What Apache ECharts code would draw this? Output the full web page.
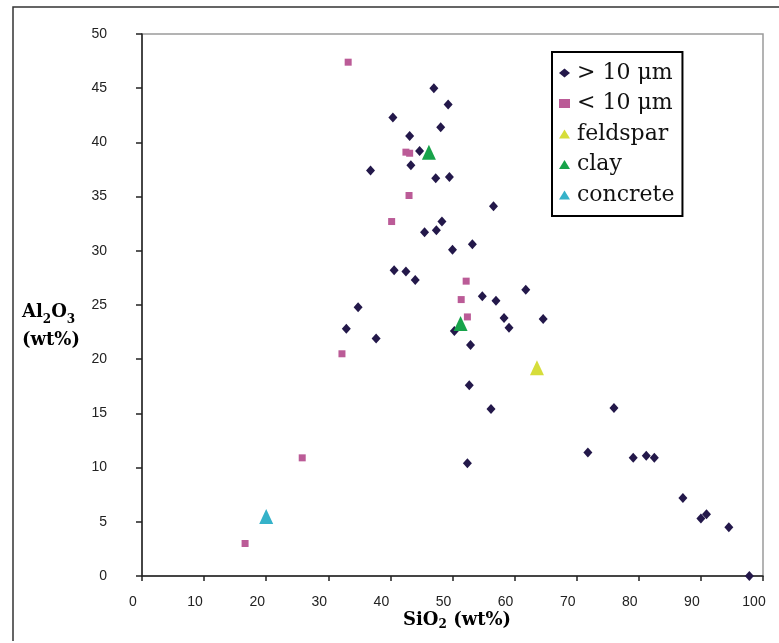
<!DOCTYPE html>
<html>
<head>
<meta charset="utf-8">
<script src="https://cdn.jsdelivr.net/npm/echarts@6/dist/echarts.min.js"></script>
<style>
html,body{margin:0;padding:0;background:#fff;}
#chart{width:779px;height:643px;}
</style>
</head>
<body>
<div id="chart"></div>
<script>
// Series names
const seriesNames = ['> 10 \u03bcm', '< 10 \u03bcm', 'feldspar', 'clay', 'concrete'];

// [SiO2, Al2O3] wt% pairs
const gt10Points = [
  [40.4, 42.3], [43.1, 40.6], [44.7, 39.2], [43.3, 37.9], [36.8, 37.4],
  [47.0, 45.0], [49.3, 43.5], [48.1, 41.4], [47.3, 36.7], [49.5, 36.8],
  [56.6, 34.1], [48.3, 32.7], [45.5, 31.7], [47.4, 31.9], [50.0, 30.1],
  [53.2, 30.6], [40.6, 28.2], [42.5, 28.1], [44.0, 27.3], [54.8, 25.8],
  [57.0, 25.4], [34.8, 24.8], [58.3, 23.8], [59.1, 22.9], [32.9, 22.8],
  [37.7, 21.9], [50.3, 22.6], [52.9, 21.3], [52.7, 17.6], [56.2, 15.4],
  [61.8, 26.4], [64.6, 23.7], [76.0, 15.5], [71.8, 11.4], [79.1, 10.9],
  [81.2, 11.1], [82.5, 10.9], [52.4, 10.4], [87.1, 7.2], [90.0, 5.3],
  [90.9, 5.7], [94.5, 4.5], [97.8, 0.0]
];
const lt10Points = [
  [33.2, 47.4], [42.5, 39.1], [43.1, 39.0], [43.0, 35.1], [40.2, 32.7],
  [52.2, 27.2], [51.4, 25.5], [52.4, 23.9], [32.2, 20.5], [25.8, 10.9],
  [16.6, 3.0]
];
const feldsparPoints = [[63.6, 19.2]];
const clayPoints = [[46.2, 39.1], [51.3, 23.3]];
const concretePoints = [[20.0, 5.5]];

// Axis ticks
const xMin = 0, xMax = 100, xStep = 10;
const yMin = 0, yMax = 50, yStep = 5;

const colors = ['#23184a', '#bb5b97', '#d6dd3a', '#17a34a', '#35b2c9'];
const serifFont = '"DejaVu Serif", "Liberation Serif", serif';

const chart = echarts.init(document.getElementById('chart'), null, {renderer: 'canvas'});

const axisLabelStyle = {
  fontFamily: '"Liberation Sans", Arial, sans-serif',
  fontSize: 14,
  color: '#222'
};

const option = {
  animation: false,
  backgroundColor: '#fff',
  grid: {
    left: 142, right: 16, top: 34, bottom: 67,
    show: true, borderColor: '#9a9a9a', borderWidth: 1.5, backgroundColor: 'transparent'
  },
  xAxis: {
    type: 'value', min: xMin, max: xMax, interval: xStep,
    axisLine: {show: true, onZero: false, lineStyle: {color: '#222', width: 1.5}},
    axisTick: {show: true, inside: false, length: 5, lineStyle: {color: '#222', width: 1.5}},
    splitLine: {show: false},
    axisLabel: Object.assign({margin: 19, padding: [0, 18, 0, 0]}, axisLabelStyle)
  },
  yAxis: {
    type: 'value', min: yMin, max: yMax, interval: yStep,
    axisLine: {show: true, onZero: false, lineStyle: {color: '#222', width: 1.5}},
    axisTick: {show: true, inside: false, length: 6, lineStyle: {color: '#222', width: 1.5}},
    splitLine: {show: false},
    axisLabel: Object.assign({margin: 35}, axisLabelStyle)
  },
  legend: {
    orient: 'vertical',
    left: 552, top: 52,
    backgroundColor: '#fff',
    borderColor: '#000', borderWidth: 2,
    padding: [10, 8, 10, 7],
    itemGap: 8.5,
    itemWidth: 11, itemHeight: 9,
    textStyle: {fontFamily: serifFont, fontSize: 22, lineHeight: 21, color: '#111', padding: [0, 0, 0, 2]},
    data: [
      {name: seriesNames[0], icon: 'diamond', itemStyle: {color: colors[0]}},
      {name: seriesNames[1], icon: 'rect', itemStyle: {color: colors[1]}},
      {name: seriesNames[2], icon: 'triangle', itemStyle: {color: colors[2]}},
      {name: seriesNames[3], icon: 'triangle', itemStyle: {color: colors[3]}},
      {name: seriesNames[4], icon: 'triangle', itemStyle: {color: colors[4]}}
    ]
  },
  series: [
    {name: seriesNames[0], type: 'scatter', symbol: 'diamond', symbolSize: [9, 10], data: gt10Points, itemStyle: {color: colors[0], opacity: 1}},
    {name: seriesNames[1], type: 'scatter', symbol: 'rect', symbolSize: 7, data: lt10Points, itemStyle: {color: colors[1], opacity: 1}},
    {name: seriesNames[2], type: 'scatter', symbol: 'triangle', symbolSize: [14, 15], data: feldsparPoints, itemStyle: {color: colors[2], opacity: 1}},
    {name: seriesNames[3], type: 'scatter', symbol: 'triangle', symbolSize: [14, 15], data: clayPoints, itemStyle: {color: colors[3], opacity: 1}},
    {name: seriesNames[4], type: 'scatter', symbol: 'triangle', symbolSize: [14, 15], data: concretePoints, itemStyle: {color: colors[4], opacity: 1}}
  ],
  graphic: [
    {
      type: 'polyline', silent: true,
      shape: {points: [[13, 641], [13, 7], [779, 7]]},
      style: {stroke: '#333', lineWidth: 1.5, fill: null}
    },
    {
      type: 'text', left: 22, top: 303, silent: true,
      style: {
        text: '{b|Al}{s|2}{b|O}{s|3}\n{b|(wt%)}',
        rich: {
          b: {fontFamily: serifFont, fontWeight: 'bold', fontSize: 18, lineHeight: 28, color: '#111'},
          s: {fontFamily: serifFont, fontWeight: 'bold', fontSize: 12, lineHeight: 14, verticalAlign: 'bottom', color: '#111'}
        }
      }
    },
    {
      type: 'text', left: 403, top: 611, silent: true,
      style: {
        text: '{b|SiO}{s|2}{b| (wt%)}',
        rich: {
          b: {fontFamily: serifFont, fontWeight: 'bold', fontSize: 18, lineHeight: 22, color: '#111'},
          s: {fontFamily: serifFont, fontWeight: 'bold', fontSize: 12, lineHeight: 8, verticalAlign: 'bottom', color: '#111'}
        }
      }
    }
  ]
};
chart.setOption(option);
</script>
</body>
</html>
